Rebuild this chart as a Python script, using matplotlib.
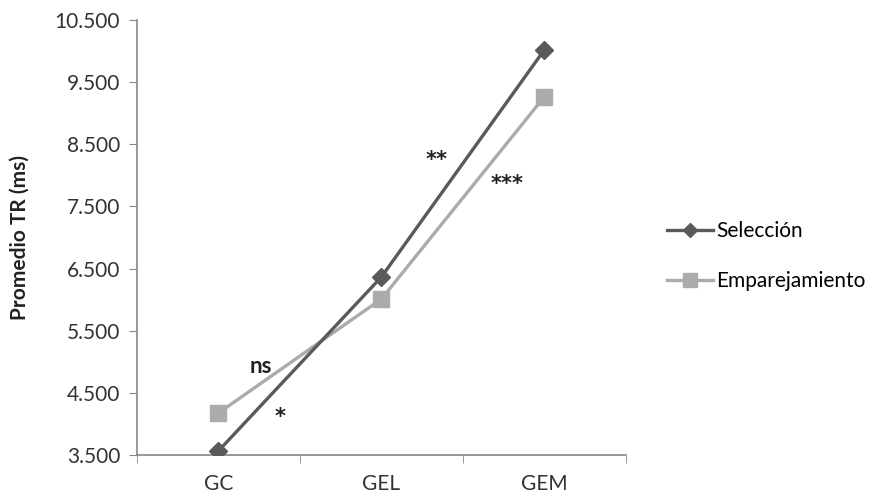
import matplotlib.pyplot as plt
from matplotlib.ticker import FuncFormatter

grupos = ["GC", "GEL", "GEM"]
seleccion = [3565, 6365, 10020]
emparejamiento = [4175, 6010, 9265]
marcas = [("ns", 0.26, 4920), ("*", 0.38, 4225), ("**", 1.34, 8360), ("***", 1.77, 7975)]

plt.rcParams['font.family'] = ['Lato', 'DejaVu Sans']

fig = plt.figure(figsize=(8.89, 5), dpi=100)
ax = fig.add_axes([0.154, 0.09, 0.550, 0.87])

x = range(len(grupos))
ax.plot(x, seleccion, color='#5a5a5a', lw=2.4, marker='D', ms=9, label='Selección', zorder=3)
ax.plot(x, emparejamiento, color='#ababab', lw=2.4, marker='s', ms=12, label='Emparejamiento', zorder=2)

for txt, mx, my in marcas:
    if txt == 'ns':
        ax.text(mx, my, txt, ha='center', va='center', fontsize=16, fontweight='bold', color='#222222')
    else:
        # asterisks sit high in the glyph box, nudge them down
        ax.text(mx, my - 120, txt, ha='center', va='center', fontsize=15, fontweight='bold',
                color='#222222', family='DejaVu Sans')

ax.set_xlim(-0.5, 2.5)
ax.set_ylim(3500, 10500)
ax.set_yticks(range(3500, 10501, 1000))
ax.yaxis.set_major_formatter(FuncFormatter(lambda v, p: f"{int(v):,}".replace(",", ".")))
ax.set_xticks(list(x))
ax.set_xticklabels(grupos)
ax.set_xticks([-0.5, 0.5, 1.5, 2.5], minor=True)
ax.tick_params(axis='x', which='major', length=0, pad=14, labelsize=15, colors='#333333')
ax.tick_params(axis='x', which='minor', length=6, color='#888888', direction='out')
ax.tick_params(axis='y', length=6, color='#888888', pad=6, labelsize=15, labelcolor='#333333')

for s in ['top', 'right']:
    ax.spines[s].set_visible(False)
for s in ['left', 'bottom']:
    ax.spines[s].set_color('#888888')
    ax.spines[s].set_linewidth(1.2)

ax.set_ylabel('Promedio TR (ms)', fontsize=15, fontweight='bold', color='#222222', labelpad=18)

fig.legend(loc='center left', bbox_to_anchor=(0.729, 0.488), frameon=False, fontsize=15,
           labelspacing=1.45, handlelength=2.2, handletextpad=0.15, markerscale=0.8)

fig.savefig('out.png', dpi=100)
